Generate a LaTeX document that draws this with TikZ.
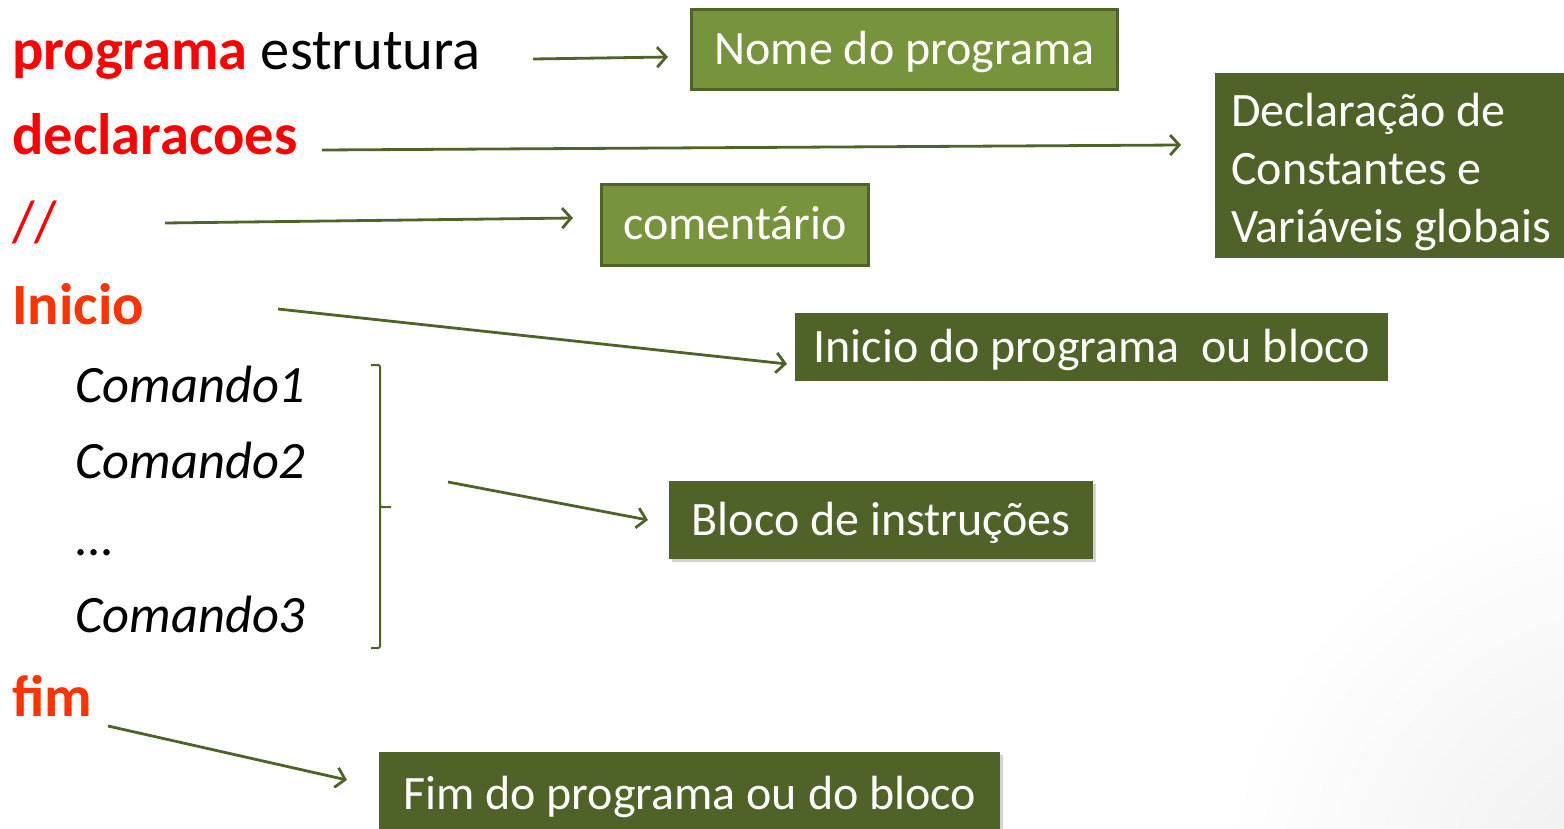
\documentclass[tikz,border=0pt]{standalone}
\usepackage{fontspec}
\setmainfont{Carlito}
\usetikzlibrary{arrows.meta,shadows}

\definecolor{codered}{HTML}{FF0000}
\definecolor{keyorange}{HTML}{FF3300}
\definecolor{leaf}{HTML}{77933C}
\definecolor{olive}{HTML}{4F6228}

\begin{document}
\begin{tikzpicture}[x=1pt, y=-1pt,
    code/.style={anchor=base west, inner sep=0pt, font=\fontsize{58.5}{68}\selectfont},
    cmd/.style={anchor=base west, inner sep=0pt, font=\fontsize{52.5}{64}\selectfont\itshape},
    lightbox/.style={rectangle, draw=olive, line width=3pt, fill=leaf, text=white, anchor=north west, inner sep=0pt, text height=34pt, text depth=4pt, font=\fontsize{48}{58}\selectfont},
    darkbox/.style={rectangle, fill=olive, text=white, anchor=north west, inner sep=0pt, text height=34pt, text depth=4pt, font=\fontsize{48}{58}\selectfont},
    shadowed/.style={drop shadow={opacity=0.35, shadow xshift=3pt, shadow yshift=-3pt}},
    line/.style={draw=olive, line width=2.8pt, -{Straight Barb[length=9pt, width=20pt]}}
]
    \useasboundingbox (0,0) rectangle (1564,829);
    % faint slide background in the corner
    \shade[inner color=black!7, outer color=white] (1640,900) circle (420);

    % Pseudo-code on the left
    \node[code] (prog) at (12,70) {\textcolor{codered}{\bfseries programa} estrutura};
    \node[code, text=codered] (decl) at (12,155) {\bfseries declaracoes};
    \node[code, text=codered] (slash) at (12,242) {//};
    \node[code, text=keyorange] (ini) at (12,324) {\bfseries Inicio};
    \node[cmd] (cmd1) at (75,402) {Comando1};
    \node[cmd] (cmd2) at (75,478) {Comando2};
    \node[cmd] (dots) at (75,555) {...};
    \node[cmd] (cmd3) at (75,632) {Comando3};
    \node[code, text=keyorange] (fim) at (12,716) {\bfseries fim};

    % Bracket round the commands
    \draw[olive, line width=2pt, rounded corners=2pt]
        (371,365) -| (380,507) -- (391,507)
        (380,500) |- (371,648);

    % Explanation boxes
    \node[lightbox, minimum width=426, minimum height=80] (nome) at (690,8) {Nome do programa};
    \node[darkbox, text height=, text depth=, minimum width=352, minimum height=185, align=left] (glob) at (1215,73)
        {\rule{0pt}{46pt}Declaração de\\Constantes e\\Variáveis globais};
    \node[lightbox, minimum width=267, minimum height=81] (coment) at (600,183) {comentário};
    \node[darkbox, minimum width=593, minimum height=68] (inibox) at (795,313) {Inicio do programa\ \ ou bloco};
    \node[darkbox, shadowed, minimum width=424, minimum height=78] (bloco) at (669,481) {Bloco de instruções};
    \node[darkbox, shadowed, minimum width=621, minimum height=84] (fimbox) at (379,752) {Fim do programa ou do bloco};

    % Arrow ends
    \coordinate (progOut) at (533,59);
    \coordinate (nomeIn) at (668,57);
    \coordinate (declOut) at (322,150);
    \coordinate (globIn) at (1181,145);
    \coordinate (slashOut) at (165,223);
    \coordinate (comentIn) at (573,218);
    \coordinate (iniOut) at (278,309);
    \coordinate (inibIn) at (787,364);
    \coordinate (cmdOut) at (448,482);
    \coordinate (blocoIn) at (648,520);
    \coordinate (fimOut) at (108,726);
    \coordinate (fimbIn) at (347,780);

    \draw[line] (progOut) -- (nomeIn);
    \draw[line] (declOut) -- (globIn);
    \draw[line] (slashOut) -- (comentIn);
    \draw[line] (iniOut) -- (inibIn);
    \draw[line] (cmdOut) -- (blocoIn);
    \draw[line] (fimOut) -- (fimbIn);

\end{tikzpicture}
\end{document}
